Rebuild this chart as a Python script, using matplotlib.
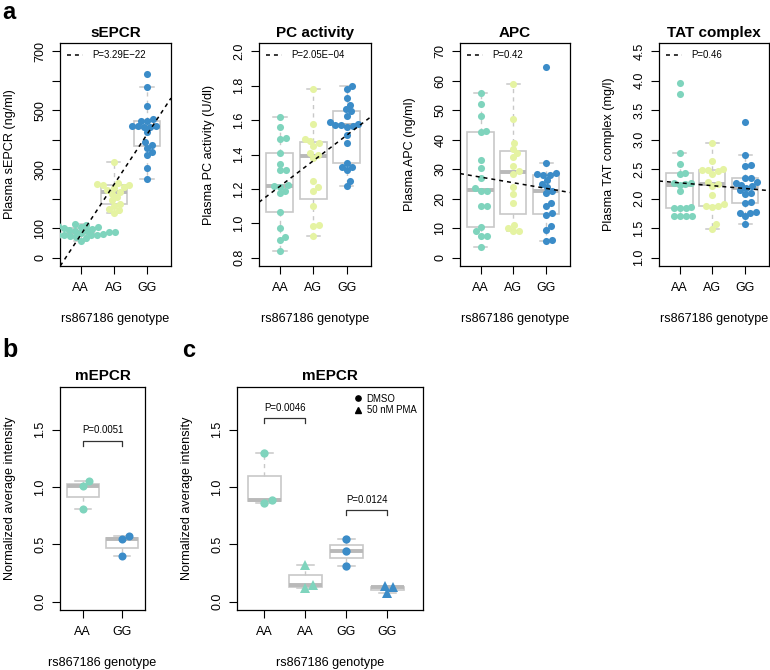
import numpy as np
import matplotlib
matplotlib.use("Agg")
import matplotlib.pyplot as plt
from matplotlib.lines import Line2D

plt.rcParams["font.family"] = ["Liberation Sans", "DejaVu Sans"]

W, H = 770, 670

# ---- panel a data ----
genotypes = ["AA", "AG", "GG"]

sepcr_aa = [114, 111, 108, 105, 103, 101, 99, 95, 92, 90, 88, 87, 86, 84, 80, 79, 78, 78, 77, 76, 75, 72, 68, 58]
sepcr_ag = [326, 252, 249, 247, 245, 241, 236, 230, 224, 216, 207, 195, 183, 176, 166, 161, 153]
sepcr_gg = [622, 580, 515, 470, 464, 462, 447, 446, 445, 444, 442, 425, 392, 382, 373, 360, 348, 305, 268]

pc_aa = [1.62, 1.56, 1.495, 1.49, 1.41, 1.345, 1.31, 1.31, 1.22, 1.215, 1.21, 1.19, 1.175, 1.065, 0.97, 0.92, 0.905, 0.84]
pc_ag = [1.78, 1.575, 1.49, 1.48, 1.465, 1.45, 1.41, 1.40, 1.38, 1.245, 1.21, 1.185, 1.10, 0.99, 0.985, 0.925]
pc_gg = [1.80, 1.78, 1.73, 1.69, 1.665, 1.65, 1.625, 1.59, 1.575, 1.57, 1.57, 1.565, 1.56, 1.515, 1.465,
         1.35, 1.33, 1.33, 1.31, 1.245, 1.215]

apc_aa = [56, 52, 48, 43, 42.5, 33, 30.5, 27, 23.5, 22.5, 22.5, 17.5, 17.5, 10.5, 9, 7.5, 7.5, 3.5]
apc_ag = [59, 47, 39, 37, 35.5, 34, 31, 29.5, 28.5, 24, 21.5, 18.7, 11, 10, 9.2, 9]
apc_gg = [64.5, 32.2, 28.8, 28.5, 28.2, 28, 26.5, 25.1, 24, 22.5, 22, 18.5, 17.4, 15.2, 14.6, 10.8, 9.5, 6, 5.8]

tat_aa = [3.97, 3.78, 2.77, 2.59, 2.44, 2.42, 2.27, 2.26, 2.25, 2.24, 2.13, 1.86, 1.84, 1.84, 1.84,
          1.71, 1.71, 1.71, 1.71]
tat_ag = [2.94, 2.64, 2.51, 2.49, 2.48, 2.47, 2.42, 2.28, 2.25, 2.22, 2.07, 1.91, 1.88, 1.87, 1.86, 1.57, 1.49]
tat_gg = [3.30, 2.74, 2.58, 2.56, 2.36, 2.35, 2.28, 2.27, 2.24, 2.22, 2.18, 2.14, 2.10, 2.08, 1.95, 1.93,
          1.77, 1.76, 1.76, 1.70, 1.58]

# ---- panel b / c data ----
b_groups = ["AA", "GG"]
mepcr_b_aa = [1.05, 1.01, 0.81]
mepcr_b_gg = [0.575, 0.545, 0.40]

c_groups = ["AA", "AA", "GG", "GG"]
c_treat = ["DMSO", "50 nM PMA", "DMSO", "50 nM PMA"]
mepcr_c_aa_dmso = [1.30, 0.89, 0.865]
mepcr_c_aa_pma = [0.32, 0.145, 0.12]
mepcr_c_gg_dmso = [0.545, 0.44, 0.315]
mepcr_c_gg_pma = [0.14, 0.125, 0.075]

teal = "#7fd4bd"
yellow = "#e5f3a2"
blue = "#3b8cc8"
box_col = "#c8c8c8"
med_col = "#b9b9b9"

fs_tick = 9.0
fs_lab = 9.1
fs_small = 6.9

fig = plt.figure(figsize=(W / 100, H / 100), dpi=100)


def px_axes(l, t, r, b):
    return fig.add_axes([l / W, 1 - b / H, (r - l) / W, (b - t) / H])


def fivenum(v):
    x = np.sort(np.asarray(v, float))
    n = len(x)
    n4 = np.floor((n + 3) / 2) / 2
    d = np.array([1, n4, (n + 1) / 2, n + 1 - n4, n]) - 1
    return 0.5 * (x[np.floor(d).astype(int)] + x[np.ceil(d).astype(int)])


def box_stats(v):
    x = np.asarray(v, float)
    _, q1, med, q3, _ = fivenum(x)
    iqr = q3 - q1
    return dict(med=med, q1=q1, q3=q3,
                whislo=x[x >= q1 - 1.5 * iqr].min(),
                whishi=x[x <= q3 + 1.5 * iqr].max(),
                fliers=[])


def swarm(ax, xc, ys, d):
    # simple beeswarm: place points in ascending order, closest to centre
    ys = np.asarray(ys, float)
    pts = ax.transData.transform(np.column_stack([np.full(len(ys), xc), ys]))
    ypx = pts[:, 1]
    xoff = np.zeros(len(ys))
    placed = []
    for i in np.argsort(ypx, kind="stable"):
        cands = [0.0]
        for px, py in placed:
            dy = abs(ypx[i] - py)
            if dy < d:
                dx = np.sqrt(d * d - dy * dy)
                cands += [px + dx, px - dx]
        cands.sort(key=abs)
        for c in cands:
            if all(np.hypot(c - px, ypx[i] - py) >= d - 1e-6 for px, py in placed):
                break
        xoff[i] = c
        placed.append((c, ypx[i]))
    inv = ax.transData.inverted()
    return inv.transform(np.column_stack([pts[:, 0] + xoff, ypx]))[:, 0]


def draw_boxes(ax, groups, pos):
    ax.bxp([box_stats(g) for g in groups], positions=pos, widths=0.8, showfliers=False,
           patch_artist=True, capwidths=0.4,
           boxprops=dict(facecolor="white", edgecolor=box_col, linewidth=1.2),
           medianprops=dict(color=med_col, linewidth=2.8, solid_capstyle="butt"),
           whiskerprops=dict(color=box_col, linewidth=1.0, linestyle=(0, (3, 3))),
           capprops=dict(color=box_col, linewidth=1.1))


def style(ax, ylab, axw):
    for s in ax.spines.values():
        s.set_linewidth(0.9)
    ax.tick_params(axis="both", length=5.5, width=0.8, labelsize=fs_tick)
    ax.tick_params(axis="x", pad=6.0)
    ax.tick_params(axis="y", pad=4.2)
    plt.setp(ax.get_yticklabels(), rotation=90, va="center", ha="right")
    ax.set_ylabel(ylab, fontsize=fs_lab)
    ax.yaxis.set_label_coords(-44 / axw, 0.5)
    ax.set_xlabel("rs867186 genotype", fontsize=fs_lab)
    ax.xaxis.set_label_coords(0.5, -47 / 223)


def expand(lo, hi):
    r = hi - lo
    return lo - 0.04 * r, hi + 0.04 * r


# ---- panel a ----
panels = [
    ((60, 43, 171, 266), [sepcr_aa, sepcr_ag, sepcr_gg], "sEPCR", "Plasma sEPCR (ng/ml)",
     (0, 700), [0, 100, 200, 300, 400, 500, 600, 700], ["0", "100", "", "300", "", "500", "", "700"],
     "P=3.29E\u221222"),
    ((259, 43, 371, 266), [pc_aa, pc_ag, pc_gg], "PC activity", "Plasma PC activity (U/dl)",
     (0.8, 2.0), [0.8, 1.0, 1.2, 1.4, 1.6, 1.8, 2.0], ["0.8", "1.0", "1.2", "1.4", "1.6", "1.8", "2.0"],
     "P=2.05E\u221204"),
    ((460, 43, 570, 266), [apc_aa, apc_ag, apc_gg], "APC", "Plasma APC (ng/ml)",
     (0, 70), [0, 10, 20, 30, 40, 50, 60, 70], ["0", "10", "20", "30", "40", "50", "60", "70"],
     "P=0.42"),
    ((659, 43, 769, 266), [tat_aa, tat_ag, tat_gg], "TAT complex", "Plasma TAT complex (mg/l)",
     (1.0, 4.5), [1.0, 1.5, 2.0, 2.5, 3.0, 3.5, 4.0, 4.5],
     ["1.0", "1.5", "2.0", "2.5", "3.0", "3.5", "4.0", "4.5"],
     "P=0.46"),
]

colors = [teal, yellow, blue]
pos = [1, 2, 3]
for box, groups, title, ylab, ylim, ticks, tlabels, ptxt in panels:
    ax = px_axes(*box)
    ax.set_xlim(0.376, 3.724)
    ax.set_ylim(*expand(*ylim))
    draw_boxes(ax, groups, pos)
    for p, g, c in zip(pos, groups, colors):
        xs = swarm(ax, p, g, 6.0)
        ax.plot(xs, g, "o", ms=5.1, color=c, mew=0, zorder=3)
    xall = np.concatenate([np.full(len(g), p, float) for p, g in zip(pos, groups)])
    yall = np.concatenate([np.asarray(g, float) for g in groups])
    k, b0 = np.polyfit(xall, yall, 1)
    ax.axline((0, b0), slope=k, color="k", lw=1.1, ls=(0, (2.6, 2.6)), zorder=4)
    ax.legend([Line2D([], [], color="k", lw=1.1, ls=(0, (2.6, 2.6)))], [ptxt],
              loc="upper left", frameon=False, fontsize=fs_small, handlelength=1.6,
              handletextpad=1.0, borderaxespad=0.35)
    ax.set_xticks(pos, genotypes)
    ax.set_yticks(ticks, tlabels)
    ax.set_title(title, fontsize=11, fontweight="bold", pad=4)
    style(ax, ylab, box[2] - box[0])

# ---- panel b ----
ax = px_axes(60, 387, 145, 610)
ax.set_xlim(0.42, 2.58)
ax.set_ylim(*expand(0, 1.8))
bg = [mepcr_b_aa, mepcr_b_gg]
draw_boxes(ax, bg, [1, 2])
for p, g, c in zip([1, 2], bg, [teal, blue]):
    ax.plot(swarm(ax, p, g, 8), g, "o", ms=5.8, color=c, mew=0, zorder=3)
ax.plot([1, 1, 2, 2], [1.355, 1.40, 1.40, 1.355], color="#333333", lw=0.9)
ax.text(1.5, 1.5, "P=0.0051", ha="center", va="center", fontsize=fs_small)
ax.set_xticks([1, 2], b_groups)
ax.set_yticks([0, 0.5, 1.0, 1.5], ["0.0", "0.5", "1.0", "1.5"])
ax.set_title("mEPCR", fontsize=11, fontweight="bold", pad=5)
style(ax, "Normalized average intensity", 85)

# ---- panel c ----
ax = px_axes(237, 387, 423, 610)
ax.set_xlim(0.332, 4.868)
ax.set_ylim(*expand(0, 1.8))
cg = [mepcr_c_aa_dmso, mepcr_c_aa_pma, mepcr_c_gg_dmso, mepcr_c_gg_pma]
cpos = [1, 2, 3, 4]
draw_boxes(ax, cg, cpos)
for p, g, c, t in zip(cpos, cg, [teal, teal, blue, blue], c_treat):
    mk = "o" if t == "DMSO" else "^"
    ax.plot(swarm(ax, p, g, 8), g, mk, ms=6.0 if mk == "o" else 6.8, color=c, mew=0, zorder=3)
ax.plot([1, 1, 2, 2], [1.56, 1.605, 1.605, 1.56], color="#333333", lw=0.9)
ax.text(1.5, 1.69, "P=0.0046", ha="center", va="center", fontsize=fs_small)
ax.plot([3, 3, 4, 4], [0.755, 0.80, 0.80, 0.755], color="#333333", lw=0.9)
ax.text(3.5, 0.89, "P=0.0124", ha="center", va="center", fontsize=fs_small)
ax.legend([Line2D([], [], marker="o", ls="none", color="k", ms=3.8),
           Line2D([], [], marker="^", ls="none", color="k", ms=4.0)],
          ["DMSO", "50 nM PMA"], loc="upper right", frameon=False, fontsize=fs_small,
          handlelength=1.0, handletextpad=0.4, labelspacing=0.15, borderaxespad=0.3)
ax.set_xticks(cpos, c_groups)
ax.set_yticks([0, 0.5, 1.0, 1.5], ["0.0", "0.5", "1.0", "1.5"])
ax.set_title("mEPCR", fontsize=11, fontweight="bold", pad=5)
style(ax, "Normalized average intensity", 186)

# panel letters
fig.text(0.003, 1 - 1 / H, "a", fontsize=17, fontweight="bold", va="top", ha="left")
fig.text(0.003, 1 - 357 / H, "b", fontsize=18, fontweight="bold", va="baseline", ha="left")
fig.text(182 / W, 1 - 357 / H, "c", fontsize=17, fontweight="bold", va="baseline", ha="left")

fig.savefig("out.png", dpi=100)
